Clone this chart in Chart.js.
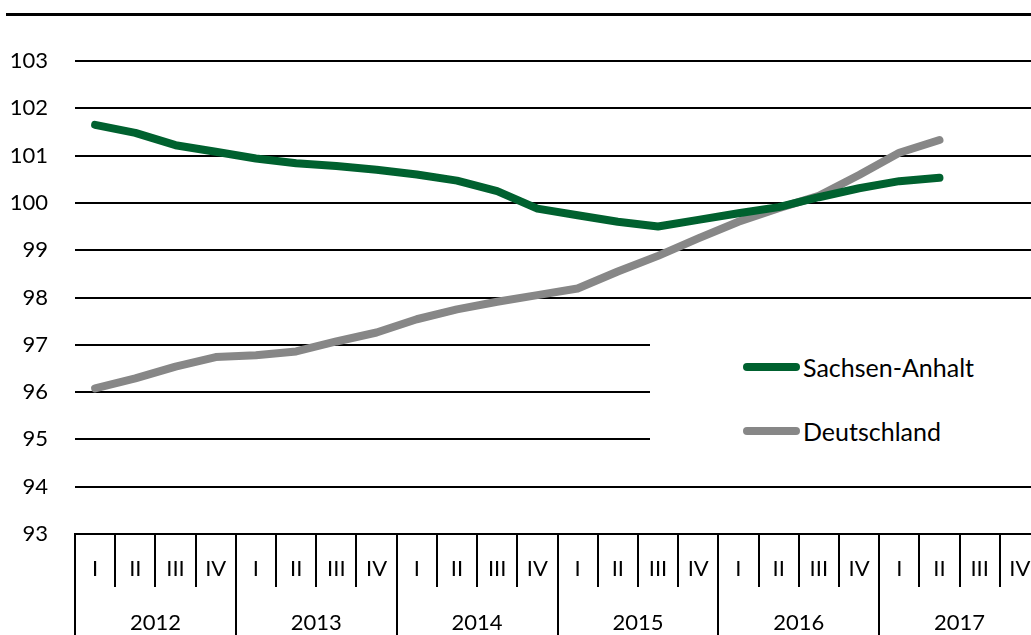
<!DOCTYPE html>
<html>
<head>
<meta charset="utf-8">
<script src="https://cdn.jsdelivr.net/npm/chart.js@4.4.1/dist/chart.umd.min.js"></script>
<style>
  body { margin: 0; overflow: hidden; background: #fff; font-family: Lato, sans-serif; }
  #main-div { position: relative; width: 1045px; height: 635px; }
  #top-rule { position: absolute; left: 6px; top: 13px; width: 1040px; height: 3px; background: #000; }
  #legend { position: absolute; left: 650px; top: 318px; width: 395px; height: 148px; background: #fff; }
  .item { position: absolute; left: 93px; height: 30px; display: flex; align-items: center; font-size: 25px; color: #000; }
  .swatch { width: 57px; height: 8px; border-radius: 4px; margin-right: 3px; }
</style>
</head>
<body>
<div id="main-div">
  <div id="top-rule"></div>
  <canvas id="main-chart"></canvas>
  <div id="legend"></div>
</div>
<script>
// Tick labels
const quarters = ["I", "II", "III", "IV", "I", "II", "III", "IV", "I", "II", "III", "IV",
  "I", "II", "III", "IV", "I", "II", "III", "IV", "I", "II", "III", "IV"];
const years = ["2012", "2013", "2014", "2015", "2016", "2017"];

// Series values
const sachsenAnhalt = [101.65, 101.48, 101.22, 101.08, 100.94, 100.84, 100.78, 100.70,
  100.60, 100.47, 100.25, 99.88, 99.74, 99.60, 99.50, 99.64, 99.78, 99.91, 100.12,
  100.31, 100.46, 100.53];
const deutschland = [96.08, 96.29, 96.54, 96.74, 96.78, 96.86, 97.07, 97.26, 97.54,
  97.75, 97.91, 98.05, 98.19, 98.55, 98.88, 99.25, 99.60, 99.89, 100.15, 100.59,
  101.06, 101.33];

const seriesNames = ["Sachsen-Anhalt", "Deutschland"];
const seriesColors = ["#00612f", "#878787"];

const tickFont = { family: "Lato", size: 22 };

function makeDataset(i, values) {
  return {
    label: seriesNames[i],
    data: values,
    borderColor: seriesColors[i],
    backgroundColor: seriesColors[i],
    borderWidth: 8,
    borderCapStyle: "round",
    borderJoinStyle: "round",
    pointRadius: 0,
    tension: 0,
  };
}

const ctx = document.getElementById("main-chart").getContext("2d");

const chart = new Chart(ctx, {
  type: "line",
  data: {
    labels: quarters,
    datasets: [makeDataset(0, sachsenAnhalt), makeDataset(1, deutschland)],
  },
  options: {
    responsive: true,
    maintainAspectRatio: false,
    animation: false,
    layout: { padding: { top: 61, right: 5, bottom: 0, left: 0 } },
    plugins: {
      legend: { display: false },
      tooltip: { enabled: false },
    },
    scales: {
      y: {
        min: 93,
        max: 103,
        ticks: { stepSize: 1, font: tickFont, color: "#000", padding: 27 },
        grid: { color: "#000", lineWidth: 2, drawTicks: false },
        border: { display: false },
        afterFit: (s) => { s.width = 75; },
      },
      x: {
        offset: true,
        ticks: { font: tickFont, color: "#000", autoSkip: false, maxRotation: 0, padding: -31.7 },
        grid: { offset: true, drawOnChartArea: false, color: "#000", lineWidth: 2, tickLength: 53 },
        border: { display: true, color: "#000", width: 2 },
        afterFit: (s) => { s.height = 53; },
      },
      x2: {
        type: "category",
        position: "bottom",
        labels: years,
        offset: true,
        ticks: { font: tickFont, color: "#000", autoSkip: false, maxRotation: 0, padding: -37.2 },
        grid: { offset: true, drawOnChartArea: false, color: "#000", lineWidth: 2, tickLength: 60 },
        border: { display: false },
        afterFit: (s) => { s.height = 48; },
      },
    },
  },
});

// Legend inside the plot
const legendDiv = document.querySelector("#legend");
chart.data.datasets.forEach((ds, i) => {
  const item = document.createElement("div");
  item.className = "item";
  item.style.top = (34 + i * 64) + "px";
  const swatch = document.createElement("span");
  swatch.className = "swatch";
  swatch.style.background = ds.borderColor;
  const text = document.createElement("span");
  text.innerText = ds.label;
  item.appendChild(swatch);
  item.appendChild(text);
  legendDiv.appendChild(item);
});
</script>
</body>
</html>
